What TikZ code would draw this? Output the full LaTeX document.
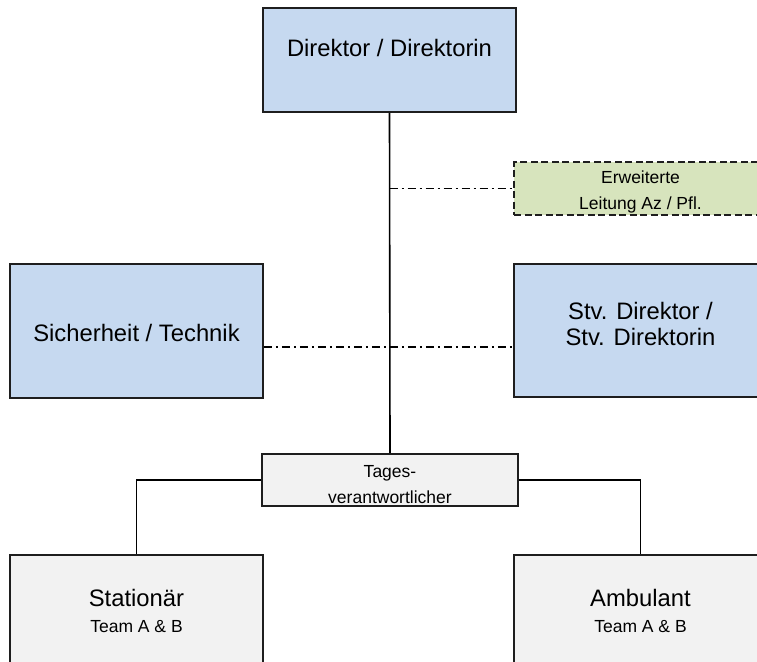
\documentclass[tikz,border=0pt]{standalone}
\usepackage{fontspec}
\setmainfont{Liberation Sans}
\begin{document}
\begin{tikzpicture}[x=1pt,y=-1pt,
  box/.style={draw=boxline,line width=1.7pt,inner sep=0pt},
  bluebox/.style={box,fill=boxblue},
  greybox/.style={box,fill=boxgrey},
  greenbox/.style={draw=boxline,line width=1.7pt,fill=boxgreen,dash pattern=on 7pt off 3.5pt,inner sep=0pt},
  big/.style={font=\fontsize{23.8}{26}\selectfont,align=center},
  small/.style={font=\fontsize{17.5}{26}\selectfont,align=center},
  link/.style={draw=black,line width=1.6pt},
  dashdot/.style={draw=black,line width=1.5pt,dash pattern=on 8pt off 4pt on 2pt off 4pt}]
\definecolor{boxblue}{HTML}{C6D9F0}
\definecolor{boxgrey}{HTML}{F2F2F2}
\definecolor{boxgreen}{HTML}{D7E4BD}
\definecolor{boxline}{HTML}{1E1E1E}
\clip (0,0) rectangle (757,661);
\fill[white] (0,0) rectangle (757,661);

% boxes
\node[bluebox,minimum width=253pt,minimum height=104pt] (dir) at (389.5,60) {};
\node[big] at ([yshift=12pt]dir.center) {Direktor / Direktorin};

\node[greenbox,minimum width=253pt,minimum height=53pt] (erw) at (640.5,188.5) {};
\node[small] at ([yshift=-3pt]erw.center) {Erweiterte\\Leitung Az / Pfl.};

\node[bluebox,minimum width=253pt,minimum height=134pt] (sich) at (136.5,331) {};
\node[big] at ([yshift=-2pt]sich.center) {Sicherheit / Technik};

\node[bluebox,minimum width=253pt,minimum height=133pt] (stv) at (640.5,330.5) {};
\node[big] at ([yshift=7pt]stv.center) {Stv. Direktor /\\Stv. Direktorin};

\node[greybox,minimum width=256pt,minimum height=52pt] (tag) at (390,480) {};
\node[small] at ([yshift=-5pt]tag.center) {Tages-\\verantwortlicher};

\node[greybox,minimum width=253pt,minimum height=134pt] (stat) at (136.5,622) {};
\node[big] at (136.5,598) {Stationär};
\node[small] at (136.5,627) {Team A \& B};

\node[greybox,minimum width=253pt,minimum height=134pt] (amb) at (640.5,622) {};
\node[big] at (640.5,598) {Ambulant};
\node[small] at (640.5,627) {Team A \& B};

% connectors
\path[link] (dir.south) -- (tag.north);
\coordinate (erwjoin) at (dir.south |- erw.west);
\path[dashdot] (erwjoin) -- (erw.west);
\coordinate (sichjoin) at ([yshift=-16pt]sich.east);
\path[dashdot] (sichjoin) -- (sichjoin -| stv.west);
\path[link] (tag.west) -| (stat.north);
\path[link] (tag.east) -| (amb.north);
\end{tikzpicture}
\end{document}
